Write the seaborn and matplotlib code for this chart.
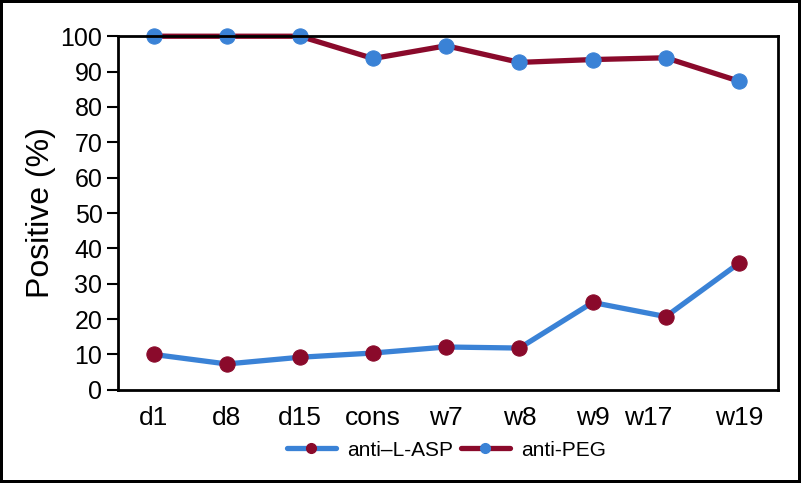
import matplotlib
matplotlib.use("Agg")
import matplotlib.pyplot as plt
import matplotlib.transforms as mtransforms
from matplotlib.lines import Line2D
import pandas as pd
import seaborn as sns

timepoints = ["d1", "d8", "d15", "cons", "w7", "w8", "w9", "w17", "w19"]
anti_lasp = [10.0, 7.3, 9.2, 10.4, 12.1, 11.8, 24.7, 20.7, 35.8]
anti_peg = [100.0, 100.0, 100.0, 93.7, 97.3, 92.6, 93.4, 93.9, 87.3]
yticks = [0, 10, 20, 30, 40, 50, 60, 70, 80, 90, 100]

blue = "#3A82D6"
red = "#8A0A2B"

df = pd.DataFrame({"time": timepoints, "anti-L-ASP": anti_lasp, "anti-PEG": anti_peg})
df["x"] = range(len(df))

sns.set_style("white")
plt.rcParams["font.family"] = ["Liberation Sans", "DejaVu Sans"]
plt.rcParams["text.color"] = "black"
plt.rcParams["axes.labelcolor"] = "black"
plt.rcParams["xtick.color"] = "black"
plt.rcParams["ytick.color"] = "black"

fig = plt.figure(figsize=(8.01, 4.83), dpi=100)
ax = fig.add_axes([0.147, 0.193, 0.824, 0.732])

sns.lineplot(data=df, x="x", y="anti-PEG", color=red, linewidth=3.8, marker="o",
             markersize=11, markerfacecolor=blue, markeredgecolor=blue, ax=ax, clip_on=False)
sns.lineplot(data=df, x="x", y="anti-L-ASP", color=blue, linewidth=3.8, marker="o",
             markersize=11, markerfacecolor=red, markeredgecolor=red, ax=ax, clip_on=False)

ax.set_xlim(-0.49, 8.53)
ax.set_ylim(0, 100)
ax.set_yticks(yticks)
ax.set_xticks(df["x"])
ax.set_xticklabels(timepoints)
ax.set_xlabel("")
ax.set_ylabel("Positive (%)", fontsize=23, labelpad=3)
ax.tick_params(axis="y", labelsize=18, length=8, width=1.5, direction="out", left=True, pad=3)
ax.tick_params(axis="x", labelsize=19, length=0, pad=12)
for s in ax.spines.values():
    s.set_color("black")
    s.set_linewidth(2)

# w17 label sits a little left of its point in the original
lbl = ax.get_xticklabels()[7]
lbl.set_transform(lbl.get_transform() + mtransforms.ScaledTranslation(-0.18, 0, fig.dpi_scale_trans))

handles = [
    Line2D([], [], color=blue, linewidth=3.8, marker="o", markersize=7,
           markerfacecolor=red, markeredgecolor=red),
    Line2D([], [], color=red, linewidth=3.8, marker="o", markersize=7,
           markerfacecolor=blue, markeredgecolor=blue),
]
fig.legend(handles, ["anti\u2013L-ASP", "anti-PEG"], loc="center", bbox_to_anchor=(0.557, 0.068),
           ncol=2, frameon=False, fontsize=15, handlelength=2.35, handletextpad=0.53,
           columnspacing=0.38)

fig.patch.set_edgecolor("black")
fig.patch.set_linewidth(3)

fig.savefig("out.png", dpi=100, edgecolor=fig.get_edgecolor())
